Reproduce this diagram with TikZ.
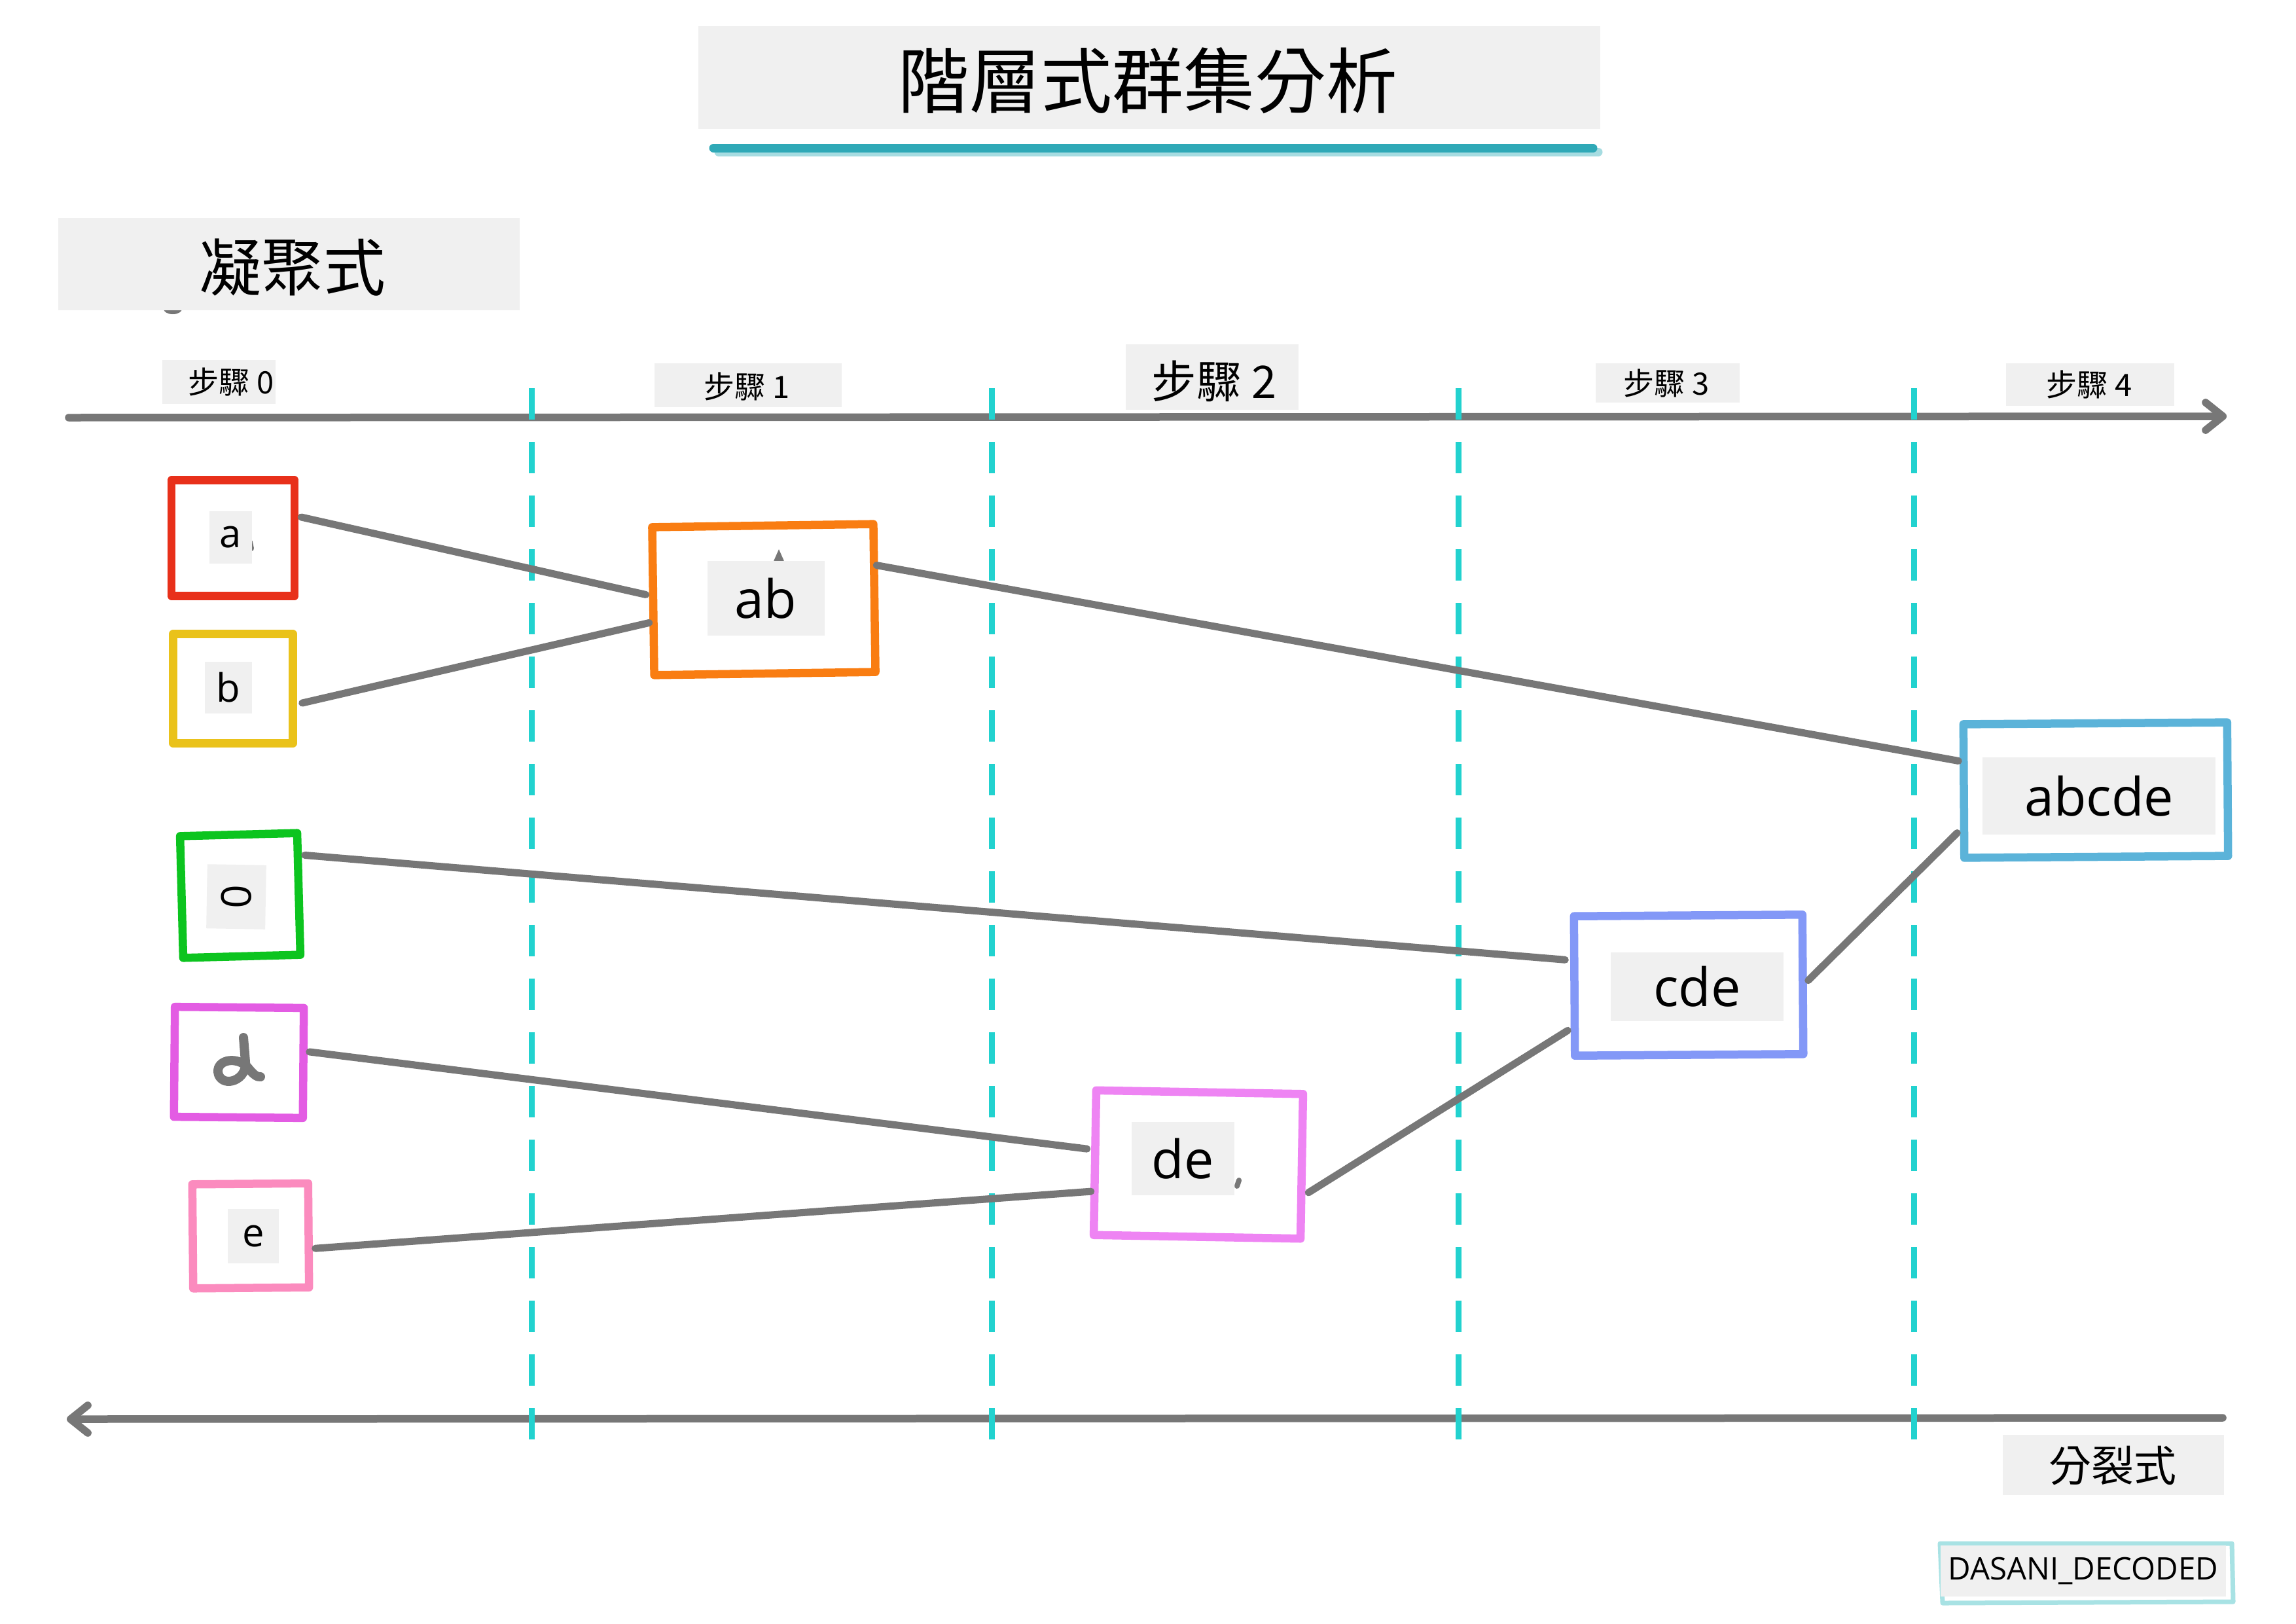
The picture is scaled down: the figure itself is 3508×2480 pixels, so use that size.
\documentclass[tikz,border=0pt]{standalone}
\usepackage{fontspec}
\setmainfont{Open Sans}
\newfontfamily\cjk{Noto Sans CJK TC}
\usetikzlibrary{arrows.meta,calc}
\definecolor{axisgray}{HTML}{777777}
\definecolor{lblgray}{HTML}{F0F0F0}
\definecolor{dashcyan}{HTML}{22D2CF}
\definecolor{teal}{HTML}{2FA9B7}
\definecolor{tealshadow}{HTML}{A6DCE1}
\definecolor{cRed}{HTML}{E8301A}
\definecolor{cYellow}{HTML}{EAC21A}
\definecolor{cGreen}{HTML}{0CC41F}
\definecolor{cMagenta}{HTML}{E35CE3}
\definecolor{cPink}{HTML}{FB8BBE}
\definecolor{cOrange}{HTML}{F97D12}
\definecolor{cViolet}{HTML}{EE84F3}
\definecolor{cPeri}{HTML}{8398F7}
\definecolor{cSky}{HTML}{5BB3D9}
\definecolor{wmline}{HTML}{A8E2E4}
\begin{document}
\begin{tikzpicture}[x=0.1mm,y=-0.1mm,
  clbox/.style={draw, line width=1.25mm, line join=round, inner sep=0pt},
  lbl/.style={fill=lblgray, inner sep=0pt, text=black},
  link/.style={draw=axisgray, line width=1.1mm, line cap=round},
  axis/.style={draw=axisgray, line width=1.15mm, line cap=round,
    -{Straight Barb[length=7.5pt, width=12pt, line cap=round, line join=round]}},
  divider/.style={draw=dashcyan, line width=0.9mm, dash pattern=on 4.8mm off 3.4mm},
  steptxt/.style={font=\cjk\fontsize{13.4}{14}\selectfont, inner sep=0pt},
  smalltxt/.style={font=\fontsize{17}{18}\selectfont},
  bigtxt/.style={font=\fontsize{23}{24}\selectfont},
  speck/.style={draw=axisgray, line width=0.8mm, line cap=round}
]
\useasboundingbox (0,0) rectangle (3508,2480);
\fill[white] (0,0) rectangle (3508,2480);

% title
\fill[lblgray] (1067,40) rectangle (2445,197);
\node[font=\cjk\fontsize{31}{33}\selectfont, inner sep=0pt] (title) at (1754,123) {階層式群集分析};
\draw[tealshadow, line width=1.3mm, line cap=round] (1098,232) -- (2442,232);
\draw[teal, line width=1.3mm, line cap=round] (1090,226) -- (2434,226);

% agglomerative header
\fill[axisgray] (264,472) ellipse (14 and 8);
\fill[lblgray] (89,333) rectangle (794,474);
\node[font=\cjk\fontsize{27}{29}\selectfont, inner sep=0pt] (agg) at (447,409) {凝聚式};

% step labels
\fill[lblgray] (248,550) rectangle (421,617);
\node[steptxt] (s0) at (353,584) {步驟 0};
\fill[lblgray] (1000,555) rectangle (1286,622);
\node[steptxt] (s1) at (1141,591) {步驟 1};
\fill[lblgray] (1720,526) rectangle (1984,626);
\node[steptxt, font=\cjk\fontsize{19.5}{21}\selectfont] (s2) at (1855,582) {步驟 2};
\fill[lblgray] (2438,555) rectangle (2658,615);
\node[steptxt] (s3) at (2546,586) {步驟 3};
\fill[lblgray] (3065,555) rectangle (3322,620);
\node[steptxt] (s4) at (3192,588) {步驟 4};

% axes
\coordinate (topL) at (105,638);
\coordinate (topR) at (3402,636);
\coordinate (botR) at (3396,2166);
\coordinate (botL) at (102,2168);
\draw[axis] (topL) -- (topR);
\draw[axis] (botR) -- (botL);

% dividers
\foreach \xx/\nm in {812/v1,1515/v2,2228/v3,2924/v4}{
  \coordinate (\nm t) at (\xx,593);
  \coordinate (\nm b) at (\xx,2212);
  \draw[divider] (\nm t) -- (\nm b);
}

% cluster boxes (positions)
\node[clbox, draw=cRed, minimum width=18.8mm, minimum height=17.7mm] (a) at (356,822) {};
\node[clbox, draw=cYellow, minimum width=18.3mm, minimum height=16.7mm] (b) at (356,1052) {};
\node[clbox, draw=cGreen, minimum width=17.9mm, minimum height=18.6mm, rotate=1.5] (c) at (367,1368) {};
\node[clbox, draw=cMagenta, minimum width=19.7mm, minimum height=16.8mm, rotate=-0.5] (d) at (365,1623) {};
\node[clbox, draw=cPink, minimum width=17.7mm, minimum height=15.9mm, rotate=0.5] (e) at (383,1888) {};
\node[clbox, draw=cOrange, minimum width=33.8mm, minimum height=22.6mm, rotate=0.8] (ab) at (1167,916) {};
\node[clbox, draw=cViolet, minimum width=31.6mm, minimum height=22.1mm, rotate=-1] (de) at (1831,1779) {};
\node[clbox, draw=cPeri, minimum width=34.9mm, minimum height=21.3mm, rotate=0.4] (cde) at (2580,1505) {};
\node[clbox, draw=cSky, minimum width=40.3mm, minimum height=20.4mm, rotate=0.4] (abcde) at (3202,1207) {};

% connectors
\draw[link] ($(a.east)+(4,-32)$) -- ($(ab.west)+(-5,-10)$);
\draw[link] ($(b.east)+(8,22)$) -- ($(ab.west)+(0,33)$);
\draw[link] ($(ab.east)+(-3,-50)$) -- ($(abcde.west)+(-2,-46)$);
\draw[link] ($(c.east)+(3,-59)$) -- ($(cde.west)+(-8,-40)$);
\draw[link] ($(d.east)+(3,-17)$) -- ($(de.west)+(-6,-21)$);
\draw[link] ($(e.east)+(4,20)$) -- ($(de.west)+(0,44)$);
\draw[link] ($(de.east)+(4,40)$) -- ($(cde.west)+(-4,68)$);
\draw[link] ($(cde.east)+(2,-6)$) -- ($(abcde.west)+(-4,64)$);

% small grey specks
\draw[speck] (382,828) -- (384,838);
\draw[speck] (1186,858) -- (1190,849) -- (1194,858);
\draw[speck] (1893,1803) -- (1890,1812);

% labels inside boxes
\node[lbl, smalltxt, minimum width=6.5mm, minimum height=8mm] (la) at (352,821) {a};
\node[lbl, smalltxt, minimum width=7.2mm, minimum height=7.9mm] (lb) at (349,1050) {b};
\node[lbl, font=\fontsize{18}{19}\selectfont, minimum width=9mm, minimum height=9.8mm, rotate=-1] (lc) at (361,1370) {\rotatebox{90}{0}};
\draw[axisgray, line width=1.4mm, line cap=round, line join=round] (372,1585) -- (375,1622)
  .. controls (378,1650) and (342,1662) .. (334,1642)
  .. controls (327,1620) and (360,1612) .. (378,1630)
  .. controls (386,1640) and (392,1646) .. (398,1645);
\node[lbl, smalltxt, minimum width=7.8mm, minimum height=8.3mm] (le) at (387,1888) {e};
\node[lbl, bigtxt, minimum width=17.9mm, minimum height=11.4mm] (lab) at (1170,914) {ab};
\node[lbl, bigtxt, minimum width=15.7mm, minimum height=11.2mm] (lde) at (1807,1770) {de};
\node[lbl, bigtxt, minimum width=26.4mm, minimum height=10.5mm] (lcde) at (2593,1507) {cde};
\node[lbl, bigtxt, minimum width=35.6mm, minimum height=11.8mm] (labcde) at (3207,1216) {abcde};

% divisive label
\fill[lblgray] (3060,2192) rectangle (3398,2284);
\node[font=\cjk\fontsize{18.5}{20}\selectfont, inner sep=0pt] (div) at (3228,2239) {分裂式};

% watermark
\draw[wmline, line width=0.7mm, line join=round] (2964,2358) -- (3410,2358) -- (3412,2447) -- (2968,2449) -- cycle;
\node[fill=lblgray, inner sep=0pt, minimum width=43.6mm, minimum height=7.8mm, font=\fontsize{13.5}{14}\selectfont] (wm) at (3183,2400) {DASANI\_DECODED};
\end{tikzpicture}
\end{document}
